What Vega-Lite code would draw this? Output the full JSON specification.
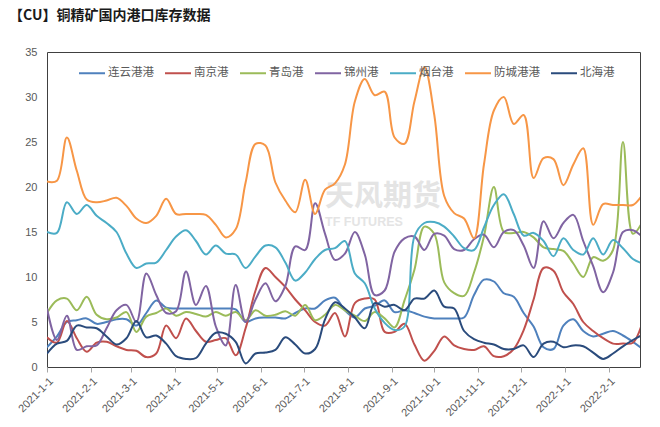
{
  "$schema": "https://vega.github.io/schema/vega-lite/v6.json",
  "width": 593,
  "height": 315,
  "autosize": {"type": "none"},
  "padding": {"left": 47, "top": 52, "right": 20, "bottom": 60},
  "background": "white",
  "config": {"view": {"stroke": "#404040", "strokeWidth": 1}},
  "title": {"text": "【CU】铜精矿国内港口库存数据", "anchor": "start", "frame": "group", "font": "Noto Sans CJK SC", "fontSize": 14, "fontWeight": "bold", "color": "#1a1a1a", "dx": -38, "offset": 16, "baseline": "middle"},
  "data": {"values": [
    {"d":"2021-01-01","连云港港":2.2,"南京港":3.3,"青岛港":6.0,"锦州港":6.5,"烟台港":15.0,"防城港港":20.6,"北海港":1.5},
    {"d":"2021-01-08","连云港港":3.4,"南京港":2.7,"青岛港":7.4,"锦州港":3.0,"烟台港":14.9,"防城港港":20.7,"北海港":2.6},
    {"d":"2021-01-15","连云港港":5.0,"南京港":5.1,"青岛港":7.6,"锦州港":5.7,"烟台港":18.3,"防城港港":25.5,"北海港":2.9},
    {"d":"2021-01-22","连云港港":5.2,"南京港":3.2,"青岛港":6.3,"锦州港":1.9,"烟台港":17.0,"防城港港":21.8,"北海港":4.6},
    {"d":"2021-01-29","连云港港":5.4,"南京港":1.7,"青岛港":7.8,"锦州港":2.3,"烟台港":18.0,"防城港港":18.6,"北海港":4.4},
    {"d":"2021-02-05","连云港港":4.8,"南京港":2.7,"青岛港":5.8,"锦州港":2.4,"烟台港":16.8,"防城港港":18.3,"北海港":4.3},
    {"d":"2021-02-12","连云港港":5.0,"南京港":2.8,"青岛港":5.3,"锦州港":4.3,"烟台港":16.0,"防城港港":18.5,"北海港":3.4},
    {"d":"2021-02-19","连云港港":5.3,"南京港":2.3,"青岛港":5.5,"锦州港":6.3,"烟台港":15.0,"防城港港":18.8,"北海港":2.5},
    {"d":"2021-02-26","连云港港":5.3,"南京港":1.9,"青岛港":6.1,"锦州港":6.9,"烟台港":12.6,"防城港港":17.9,"北海港":3.2},
    {"d":"2021-03-05","连云港港":4.6,"南京港":1.8,"青岛港":3.9,"锦州港":5.0,"烟台港":11.0,"防城港港":16.5,"北海港":5.1},
    {"d":"2021-03-12","连云港港":6.0,"南京港":1.1,"青岛港":5.6,"锦州港":10.4,"烟台港":11.5,"防城港港":16.0,"北海港":3.3},
    {"d":"2021-03-19","连云港港":7.4,"南京港":1.5,"青岛港":6.0,"锦州港":8.0,"烟台港":11.6,"防城港港":16.8,"北海港":3.5},
    {"d":"2021-03-26","连云港港":6.6,"南京港":4.6,"青岛港":6.5,"锦州港":6.0,"烟台港":13.0,"防城港港":18.7,"北海港":2.6},
    {"d":"2021-04-02","连云港港":6.5,"南京港":3.2,"青岛港":5.7,"锦州港":6.2,"烟台港":14.5,"防城港港":17.0,"北海港":1.2},
    {"d":"2021-04-09","连云港港":6.5,"南京港":5.4,"青岛港":6.1,"锦州港":10.6,"烟台港":15.2,"防城港港":17.0,"北海港":0.9},
    {"d":"2021-04-16","连云港港":6.5,"南京港":4.0,"青岛港":5.9,"锦州港":6.9,"烟台港":14.0,"防城港港":17.0,"北海港":1.0},
    {"d":"2021-04-23","连云港港":6.5,"南京港":2.8,"青岛港":5.6,"锦州港":9.0,"烟台港":12.5,"防城港港":16.9,"北海港":2.6},
    {"d":"2021-04-30","连云港港":6.5,"南京港":3.0,"青岛港":6.1,"锦州港":4.5,"烟台港":13.5,"防城港港":15.8,"北海港":3.8},
    {"d":"2021-05-07","连云港港":6.5,"南京港":3.2,"青岛港":5.7,"锦州港":2.4,"烟台港":12.6,"防城港港":14.4,"北海港":3.7},
    {"d":"2021-05-14","连云港港":6.4,"南京港":1.3,"青岛港":6.1,"锦州港":9.1,"烟台港":12.5,"防城港港":15.3,"北海港":2.8},
    {"d":"2021-05-21","连云港港":5.0,"南京港":4.3,"青岛港":5.2,"锦州港":5.0,"烟台港":11.0,"防城港港":20.5,"北海港":0.4},
    {"d":"2021-05-28","连云港港":5.4,"南京港":8.5,"青岛港":6.3,"锦州港":7.5,"烟台港":12.3,"防城港港":24.8,"北海港":1.5},
    {"d":"2021-06-04","连云港港":5.5,"南京港":11.0,"青岛港":5.7,"锦州港":9.3,"烟台港":13.5,"防城港港":24.6,"北海港":1.6},
    {"d":"2021-06-11","连云港港":5.5,"南京港":10.0,"青岛港":5.8,"锦州港":7.3,"烟台港":13.3,"防城港港":20.5,"北海港":1.9},
    {"d":"2021-06-18","连云港港":5.4,"南京港":8.9,"青岛港":6.2,"锦州港":9.0,"烟台港":11.6,"防城港港":18.5,"北海港":3.3},
    {"d":"2021-06-25","连云港港":6.0,"南京港":7.5,"青岛港":5.7,"锦州港":13.4,"烟台港":9.6,"防城港港":17.2,"北海港":2.5},
    {"d":"2021-07-02","连云港港":6.5,"南京港":6.3,"青岛港":6.9,"锦州港":13.0,"烟台港":10.5,"防城港港":20.8,"北海港":1.5},
    {"d":"2021-07-09","连云港港":6.5,"南京港":5.0,"青岛港":5.2,"锦州港":18.2,"烟台港":12.0,"防城港港":17.0,"北海港":2.0},
    {"d":"2021-07-16","连云港港":7.4,"南京港":4.6,"青岛港":5.8,"锦州港":14.8,"烟台港":13.0,"防城港港":19.7,"北海港":5.3},
    {"d":"2021-07-23","连云港港":7.7,"南京港":6.0,"青岛港":6.9,"锦州港":11.9,"烟台港":13.2,"防城港港":20.4,"北海港":7.2},
    {"d":"2021-07-30","连云港港":6.3,"南京港":3.4,"青岛港":6.3,"锦州港":12.6,"烟台港":14.0,"防城港港":22.5,"北海港":6.5},
    {"d":"2021-08-06","连云港港":5.5,"南京港":7.1,"青岛港":5.7,"锦州港":15.0,"烟台港":10.4,"防城港港":29.5,"北海港":5.5},
    {"d":"2021-08-13","连云港港":6.5,"南京港":7.6,"青岛港":5.1,"锦州港":12.5,"烟台港":9.3,"防城港港":32.0,"北海港":4.3},
    {"d":"2021-08-20","连云港港":6.8,"南京港":7.5,"青岛港":6.1,"锦州港":8.0,"烟台港":6.5,"防城港港":30.2,"北海港":7.1},
    {"d":"2021-08-27","连云港港":7.4,"南京港":3.9,"青岛港":5.4,"锦州港":8.5,"烟台港":4.9,"防城港港":30.6,"北海港":6.7},
    {"d":"2021-09-03","连云港港":6.1,"南京港":3.9,"青岛港":4.4,"锦州港":12.8,"烟台港":4.1,"防城港港":25.5,"北海港":6.9},
    {"d":"2021-09-10","连云港港":6.3,"南京港":4.8,"青岛港":7.4,"锦州港":14.3,"烟台港":4.5,"防城港港":24.8,"北海港":6.3},
    {"d":"2021-09-17","连云港港":6.0,"南京港":2.5,"青岛港":10.8,"锦州港":14.5,"烟台港":14.5,"防城港港":29.5,"北海港":7.6},
    {"d":"2021-09-24","连云港港":5.6,"南京港":0.7,"青岛港":15.6,"锦州港":13.0,"烟台港":16.0,"防城港港":33.3,"北海港":7.6},
    {"d":"2021-10-01","连云港港":5.4,"南京港":1.8,"青岛港":14.8,"锦州港":14.8,"烟台港":16.1,"防城港港":28.0,"北海港":8.5},
    {"d":"2021-10-08","连云港港":5.4,"南京港":3.4,"青岛港":9.4,"锦州港":14.6,"烟台港":15.6,"防城港港":19.0,"北海港":6.7},
    {"d":"2021-10-15","连云港港":5.4,"南京港":2.4,"青岛港":8.2,"锦州港":13.1,"烟台港":14.5,"防城港港":17.1,"北海港":6.5},
    {"d":"2021-10-22","连云港港":5.5,"南京港":2.0,"青岛港":7.9,"锦州港":13.0,"烟台港":13.2,"防城港港":16.5,"北海港":4.0},
    {"d":"2021-10-29","连云港港":8.0,"南京港":1.9,"青岛港":10.5,"锦州港":14.2,"烟台港":13.0,"防城港港":14.3,"北海港":3.1},
    {"d":"2021-11-05","连云港港":9.7,"南京港":2.3,"青岛港":14.5,"锦州港":14.7,"烟台港":15.5,"防城港港":22.5,"北海港":2.7},
    {"d":"2021-11-12","连云港港":9.5,"南京港":1.2,"青岛港":20.0,"锦州港":13.3,"烟台港":18.0,"防城港港":28.5,"北海港":2.5},
    {"d":"2021-11-19","连云港港":8.2,"南京港":1.2,"青岛港":15.0,"锦州港":15.0,"烟台港":19.2,"防城港港":30.0,"北海港":2.0},
    {"d":"2021-11-26","连云港港":7.8,"南京港":2.0,"青岛港":14.9,"锦州港":15.2,"烟台港":17.0,"防城港港":27.0,"北海港":2.0},
    {"d":"2021-12-03","连云港港":6.0,"南京港":4.1,"青岛港":15.0,"锦州港":13.5,"烟台港":14.6,"防城港港":28.0,"北海港":2.4},
    {"d":"2021-12-10","连云港港":4.5,"南京港":7.5,"青岛港":14.4,"锦州港":11.0,"烟台港":14.9,"防城港港":21.0,"北海港":1.1},
    {"d":"2021-12-17","连云港港":2.2,"南京港":11.0,"青岛港":13.3,"锦州港":16.2,"烟台港":14.0,"防城港港":23.2,"北海港":2.6},
    {"d":"2021-12-24","连云港港":2.0,"南京港":10.7,"青岛港":13.1,"锦州港":14.3,"烟台港":12.3,"防城港港":23.1,"北海港":2.8},
    {"d":"2021-12-31","连云港港":4.6,"南京港":8.3,"青岛港":12.9,"锦州港":16.0,"烟台港":14.3,"防城港港":20.2,"北海港":2.2},
    {"d":"2022-01-07","连云港港":5.3,"南京港":7.0,"青岛港":11.5,"锦州港":16.9,"烟台港":13.0,"防城港港":22.5,"北海港":2.4},
    {"d":"2022-01-14","连云港港":4.0,"南京港":5.0,"青岛港":10.0,"锦州港":14.0,"烟台港":12.5,"防城港港":24.3,"北海港":2.3},
    {"d":"2022-01-21","连云港港":3.4,"南京港":4.0,"青岛港":12.2,"锦州港":11.2,"烟台港":14.3,"防城港港":15.8,"北海港":1.6},
    {"d":"2022-01-28","连云港港":3.7,"南京港":3.2,"青岛港":11.8,"锦州港":8.3,"烟台港":12.5,"防城港港":18.1,"北海港":0.9},
    {"d":"2022-02-04","连云港港":4.0,"南京港":2.6,"青岛港":13.0,"锦州港":10.5,"烟台港":14.1,"防城港港":18.0,"北海港":1.5},
    {"d":"2022-02-11","连云港港":3.5,"南京港":2.6,"青岛港":25.0,"锦州港":15.0,"烟台港":13.2,"防城港港":18.0,"北海港":2.3},
    {"d":"2022-02-18","连云港港":2.8,"南京港":2.7,"青岛港":14.8,"锦州港":15.2,"烟台港":12.0,"防城港港":18.0,"北海港":3.0},
    {"d":"2022-02-25","连云港港":2.0,"南京港":5.1,"青岛港":16.2,"锦州港":14.4,"烟台港":11.5,"防城港港":19.2,"北海港":3.6}
  ]},
  "layer": [
    {
      "data": {"values": [{"t": "天风期货"}]},
      "mark": {"type": "text", "align": "left", "baseline": "middle", "font": "Noto Sans CJK SC", "fontSize": 29, "fontWeight": "bold", "color": "#E4E4E4"},
      "encoding": {
        "x": {"datum": {"year": 2021, "month": 7, "date": 16, "utc": true}, "type": "temporal", "scale": {"type": "utc"}, "axis": {"title": null, "labelExpr": "utcFormat(datum.value, '%Y-%-m-%-d')"}},
        "y": {"datum": 18.9, "type": "quantitative"},
        "text": {"field": "t"}
      }
    },
    {
      "data": {"values": [{"t": "TF FUTURES"}]},
      "mark": {"type": "text", "align": "left", "baseline": "middle", "font": "Liberation Sans", "fontSize": 12.5, "fontWeight": "bold", "color": "#E4E4E4"},
      "encoding": {
        "x": {"datum": {"year": 2021, "month": 7, "date": 16, "utc": true}, "type": "temporal", "scale": {"type": "utc"}, "axis": {"title": null, "labelExpr": "utcFormat(datum.value, '%Y-%-m-%-d')"}},
        "y": {"datum": 16.1, "type": "quantitative"},
        "text": {"field": "t"}
      }
    },
    {
      "transform": [{"fold": ["连云港港", "南京港", "青岛港", "锦州港", "烟台港", "防城港港", "北海港"], "as": ["port", "v"]}],
      "mark": {"type": "line", "interpolate": "catmull-rom", "strokeWidth": 2, "clip": true},
      "encoding": {
        "x": {"field": "d", "type": "temporal",
          "scale": {"type": "utc", "domain": [{"year": 2021, "month": 1, "date": 1, "utc": true}, {"year": 2022, "month": 2, "date": 23, "utc": true}]},
          "axis": {"title": null, "labelExpr": "utcFormat(datum.value, '%Y-%-m-%-d')", "tickCount": {"interval": "month", "step": 1}, "labelAngle": -45, "labelFontSize": 11, "labelColor": "#595959", "labelFont": "Liberation Sans", "tickColor": "#A6A6A6", "tickSize": 5, "domain": false, "grid": false, "labelPadding": 3, "labelOverlap": false, "labelBound": false, "labelFlush": false}},
        "y": {"field": "v", "type": "quantitative",
          "scale": {"domain": [0, 35], "nice": false},
          "axis": {"title": null, "values": [0, 5, 10, 15, 20, 25, 30, 35], "domain": false, "ticks": false, "grid": false, "labelColor": "#595959", "labelFontSize": 11, "labelFont": "Liberation Sans", "labelPadding": 10}},
        "color": {"field": "port", "type": "nominal",
          "scale": {"domain": ["连云港港", "南京港", "青岛港", "锦州港", "烟台港", "防城港港", "北海港"], "range": ["#4F81BD", "#C0504D", "#9BBB59", "#8064A2", "#4BACC6", "#F79646", "#2A4B7C"]},
          "legend": {"title": null, "orient": "none", "legendX": 31, "legendY": 7, "direction": "horizontal", "columns": 7, "symbolType": "stroke", "symbolSize": 676, "symbolStrokeWidth": 2, "labelFontSize": 11.5, "labelColor": "#595959", "labelFont": "Noto Sans CJK SC", "columnPadding": 7, "labelOffset": 2}}
      }
    }
  ]
}
